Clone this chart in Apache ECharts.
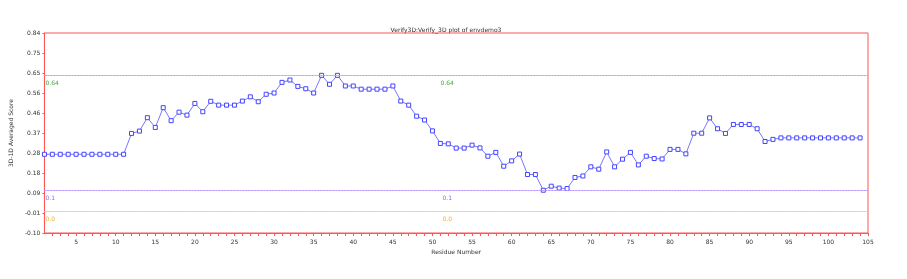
<!DOCTYPE html>
<html>
<head>
<meta charset="utf-8">
<script src="https://cdn.jsdelivr.net/npm/echarts@6/dist/echarts.min.js"></script>
<style>
html, body { margin: 0; padding: 0; background: #fff; }
#main { width: 907px; height: 279px; }
</style>
</head>
<body>
<div id="main"></div>
<script>
// averaged 3D-1D score, residues 1..104
var scores = [
  0.27, 0.27, 0.27, 0.27, 0.27, 0.27, 0.27, 0.27, 0.27, 0.27,
  0.27, 0.368, 0.379, 0.442, 0.396, 0.489, 0.428, 0.468, 0.454, 0.509,
  0.470, 0.519, 0.501, 0.501, 0.501, 0.52, 0.54, 0.517, 0.552, 0.558,
  0.608, 0.619, 0.589, 0.578, 0.558, 0.641, 0.599, 0.641, 0.591, 0.591,
  0.576, 0.576, 0.576, 0.576, 0.591, 0.52, 0.501, 0.449, 0.431, 0.38,
  0.321, 0.319, 0.299, 0.299, 0.313, 0.300, 0.261, 0.279, 0.214, 0.239,
  0.271, 0.175, 0.175, 0.101, 0.12, 0.111, 0.109, 0.161, 0.168, 0.211,
  0.2, 0.281, 0.211, 0.247, 0.279, 0.22, 0.261, 0.25, 0.248, 0.293,
  0.293, 0.272, 0.369, 0.369, 0.441, 0.39, 0.368, 0.41, 0.41, 0.41,
  0.39, 0.33, 0.34, 0.347, 0.347, 0.347, 0.347, 0.347, 0.347, 0.347,
  0.347, 0.347, 0.347, 0.347
];
var thresholds = [0.64, 0.1, 0.0];
var thresholdColors = ['#88d088', '#b898ff', '#ffcc66'];
var thresholdTextColors = ['#44aa44', '#9966ee', '#eeaa33'];
var thresholdLabels = ['0.64', '0.1', '0.0'];

var points = scores.map(function (v, i) { return [i + 1, v]; });

var series = [{
  type: 'line',
  data: points,
  symbol: 'rect',
  symbolSize: 4,
  itemStyle: { color: '#fff', borderColor: '#4444ff', borderWidth: 1 },
  lineStyle: { color: '#7777ff', width: 1 },
  z: 3
}];

thresholds.forEach(function (t, i) {
  series.push({
    type: 'line',
    data: [],
    markLine: {
      silent: true, symbol: 'none',
      lineStyle: { color: thresholdColors[i], type: [2, 1], width: 1, opacity: 1 },
      label: {
        show: true, formatter: thresholdLabels[i],
        color: thresholdTextColors[i], fontSize: 6, fontFamily: 'DejaVu Sans'
      },
      data: [
        { yAxis: t, label: { position: 'insideStartBottom', offset: [-4, 0] } },
        { yAxis: t, label: { position: 'insideMiddleBottom', offset: [-9, 0] } }
      ]
    }
  });
});

var chart = echarts.init(document.getElementById('main'));
chart.setOption({
  animation: false,
  title: {
    text: 'Verify3D:Verify_3D plot of envdemo3',
    left: 441, top: 22, textAlign: 'center',
    textStyle: { fontSize: 6, fontWeight: 'normal', color: '#333', fontFamily: 'DejaVu Sans' }
  },
  grid: {
    left: 35, top: 33, right: 39, bottom: 46,
    show: true, borderColor: '#ff5555', borderWidth: 1
  },
  xAxis: {
    type: 'value', min: 1, max: 105, interval: 1,
    name: 'Residue Number', nameLocation: 'middle', nameGap: 16,
    nameTextStyle: { fontSize: 6, color: '#333', fontFamily: 'DejaVu Sans' },
    axisLine: { onZero: false, lineStyle: { color: '#ff5555' } },
    axisTick: { show: true, length: 3, lineStyle: { color: '#ff5555' } },
    axisLabel: {
      fontSize: 6, color: '#333', fontFamily: 'DejaVu Sans', margin: 6,
      showMinLabel: false,
      formatter: function (v) { return v % 5 === 0 ? String(v) : ''; }
    },
    splitLine: { show: false }
  },
  yAxis: {
    type: 'value', min: -0.10, max: 0.84, interval: 0.094,
    name: '3D-1D Averaged Score', nameLocation: 'middle', nameGap: 18,
    nameTextStyle: { fontSize: 6, color: '#333', fontFamily: 'DejaVu Sans' },
    axisLine: { show: true, onZero: false, lineStyle: { color: '#ff5555' } },
    axisTick: { show: true, length: 2, lineStyle: { color: '#ff5555' } },
    axisLabel: {
      fontSize: 6, color: '#333', fontFamily: 'DejaVu Sans', margin: 4,
      formatter: function (v) { return v.toFixed(2); }
    },
    splitLine: { show: false }
  },
  series: series
});
</script>
</body>
</html>
